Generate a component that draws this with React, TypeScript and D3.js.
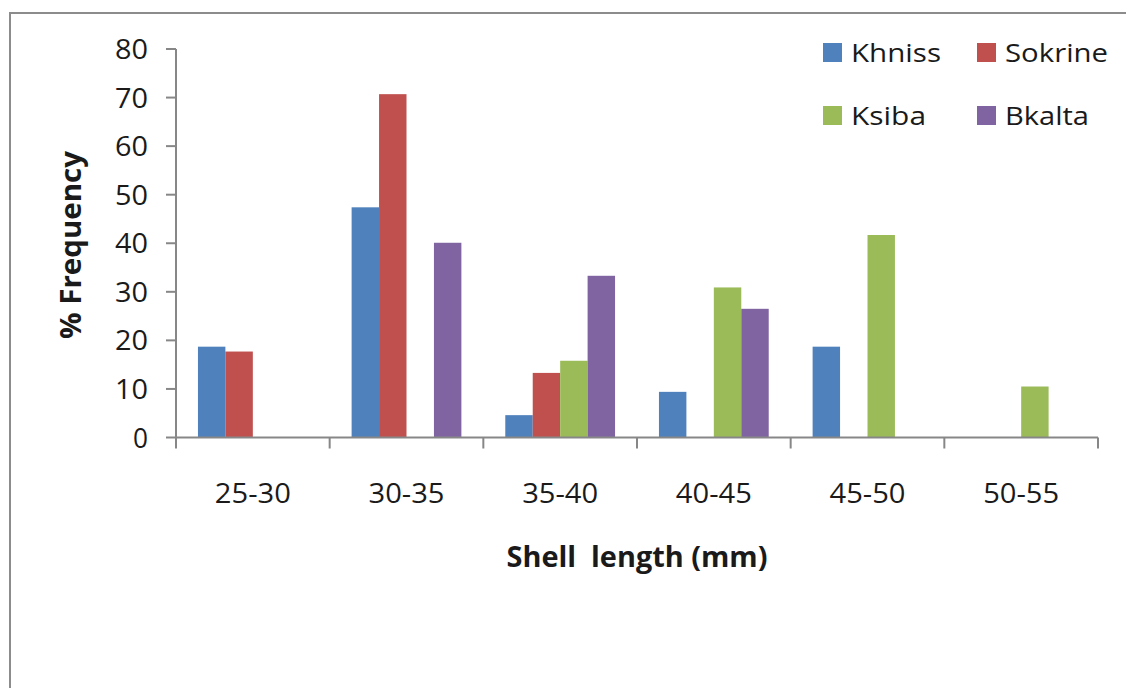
import React from "react";
import * as d3 from "d3";

// Shell length classes and % frequency per site
const categories = ["25-30", "30-35", "35-40", "40-45", "45-50", "50-55"];
const seriesNames = ["Khniss", "Sokrine", "Ksiba", "Bkalta"];
const khniss = [18.7, 47.4, 4.6, 9.4, 18.7, 0];
const sokrine = [17.7, 70.7, 13.3, 0, 0, 0];
const ksiba = [0, 0, 15.8, 30.9, 41.7, 10.5];
const bkalta = [0, 40.1, 33.3, 26.5, 0, 0];
const yTicks = [0, 10, 20, 30, 40, 50, 60, 70, 80];
const colors = ["#4F81BD", "#C0504D", "#9BBB59", "#8064A2"];

const seriesValues = [khniss, sokrine, ksiba, bkalta];

const W = 1126;
const H = 688;
const left = 176;
const right = 1098;
const top = 49;
const bottom = 437.5;
const axisColor = "#878787";
const font = "'Open Sans', 'Liberation Sans', sans-serif";

export default function App() {
  const x = d3.scaleBand<string>().domain(categories).range([left, right]).paddingInner(0).paddingOuter(0);
  const inner = d3
    .scaleBand<string>()
    .domain(seriesNames)
    .range([0, x.bandwidth()])
    .paddingInner(0)
    .paddingOuter(0.8);
  const y = d3.scaleLinear().domain([0, 80]).range([bottom, top]);

  const boundaries = [...categories.map((c) => x(c) as number), right];

  const legendItems = [
    { name: seriesNames[0], color: colors[0], x: 823, y: 62, len: 90 },
    { name: seriesNames[1], color: colors[1], x: 977, y: 62, len: 103 },
    { name: seriesNames[2], color: colors[2], x: 823, y: 125, len: 75 },
    { name: seriesNames[3], color: colors[3], x: 977, y: 125, len: 84 },
  ];

  return (
    <svg
      width={W}
      height={H}
      viewBox={`0 0 ${W} ${H}`}
      style={{ position: "absolute", left: 0, top: 0, background: "#fff" }}
    >
      <rect x={0} y={0} width={W} height={H} fill="#fff" />
      {/* chart frame */}
      <path d={`M10,${H} V13 H${W}`} fill="none" stroke="#8c8c8c" strokeWidth={2} />

      {/* bars */}
      {seriesValues.map((vals, si) =>
        vals.map((v, ci) =>
          v > 0 ? (
            <rect
              key={`${si}-${ci}`}
              x={(x(categories[ci]) as number) + (inner(seriesNames[si]) as number)}
              y={y(v)}
              width={inner.bandwidth()}
              height={y(0) - y(v)}
              fill={colors[si]}
            />
          ) : null
        )
      )}

      {/* y axis */}
      <line x1={left} x2={left} y1={top} y2={bottom} stroke={axisColor} strokeWidth={2} />
      {yTicks.map((t) => (
        <g key={t}>
          <line x1={left - 10} x2={left} y1={y(t)} y2={y(t)} stroke={axisColor} strokeWidth={2} />
          <text
            x={148}
            y={y(t)}
            dy="0.36em"
            textAnchor="end"
            fontFamily={font}
            fontSize={28}
            fill="#1a1a1a"
            textLength={t < 10 ? 15 : 33}
            lengthAdjust="spacingAndGlyphs"
          >
            {t}
          </text>
        </g>
      ))}

      {/* x axis */}
      <line x1={left} x2={right} y1={bottom} y2={bottom} stroke={axisColor} strokeWidth={2} />
      {boundaries.map((bx, i) => (
        <line key={i} x1={bx} x2={bx} y1={bottom} y2={bottom + 11} stroke={axisColor} strokeWidth={2} />
      ))}
      {categories.map((c) => (
        <text
          key={c}
          x={(x(c) as number) + x.bandwidth() / 2}
          y={503}
          textAnchor="middle"
          fontFamily={font}
          fontSize={27}
          fill="#1a1a1a"
          textLength={76}
          lengthAdjust="spacingAndGlyphs"
        >
          {c}
        </text>
      ))}

      {/* axis titles */}
      <text
        x={637}
        y={567}
        textAnchor="middle"
        fontFamily={font}
        fontWeight="bold"
        fontSize={28}
        fill="#1a1a1a"
        textLength={261}
        lengthAdjust="spacingAndGlyphs"
        style={{ whiteSpace: "pre" }}
      >
        {"Shell  length (mm)"}
      </text>
      <text
        transform="translate(81,245) rotate(-90)"
        textAnchor="middle"
        fontFamily={font}
        fontWeight="bold"
        fontSize={28}
        fill="#1a1a1a"
        textLength={188}
        lengthAdjust="spacingAndGlyphs"
      >
        % Frequency
      </text>

      {/* legend */}
      {legendItems.map((it) => (
        <g key={it.name}>
          <rect x={it.x} y={it.y - 19} width={19} height={19} fill={it.color} />
          <text
            x={it.x + 28}
            y={it.y}
            fontFamily={font}
            fontSize={26}
            fill="#1a1a1a"
            textLength={it.len}
            lengthAdjust="spacingAndGlyphs"
          >
            {it.name}
          </text>
        </g>
      ))}
    </svg>
  );
}
